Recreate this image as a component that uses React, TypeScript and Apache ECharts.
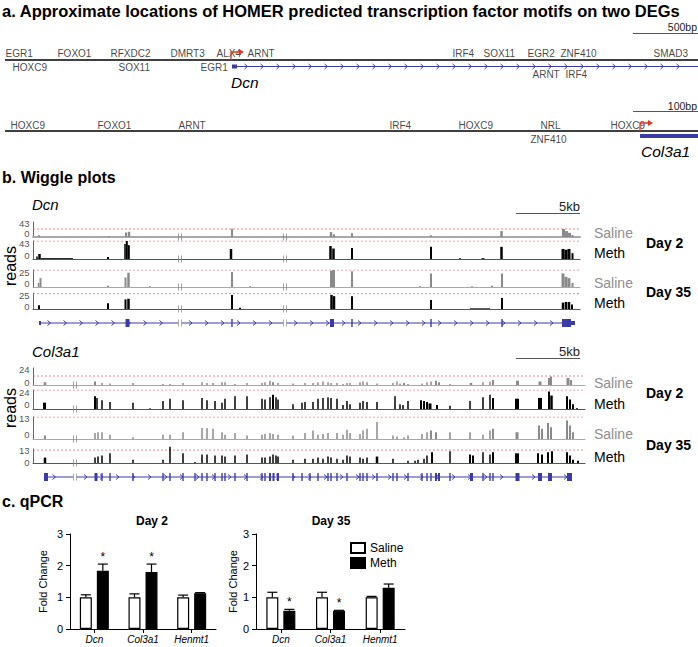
import React, { useEffect, useRef } from "react";
import * as echarts from "echarts";

type Peak = [number, number, number]; // [position, width, reads]
type Exon = [number, number, number]; // [start, end, coding(1)/utr(0)]

const FONT = '"Liberation Sans", Arial, Helvetica, sans-serif';
const BLUE = "#3b3ba8";
const RED = "#e8341c";
const GREY = "#8a8a8a";

// ---------------- Panel a : promoter motifs ----------------
// [label, position, row] row: 1 above line, -1 below line (beside gene), -2 below gene line
const dcnMotifs: [string, number, number][] = [
  ["EGR1", 5, 1], ["FOXO1", 57, 1], ["RFXDC2", 110, 1], ["DMRT3", 170, 1], ["ALX4", 216, 1], ["ARNT", 247, 1],
  ["IRF4", 452, 1], ["SOX11", 483, 1], ["EGR2", 527, 1], ["ZNF410", 560, 1], ["SMAD3", 653, 1],
  ["HOXC9", 12, -1], ["SOX11", 118, -1], ["EGR1", 200, -1], ["ARNT", 532, -2], ["IRF4", 565, -2],
];
const col3a1Motifs: [string, number, number][] = [
  ["HOXC9", 10, 1], ["FOXO1", 97, 1], ["ARNT", 178, 1], ["IRF4", 389, 1], ["HOXC9", 458, 1], ["NRL", 540, 1],
  ["HOXC9", 610, 1], ["ZNF410", 530, -2],
];
const promoterSpan: [number, number][] = [[5, 0], [698, 0]];
const dcnPromoterTss = [231];
const dcnPromoterExons: Exon[] = [[232, 237, 0]];
const dcnPromoterIntrons: [number, number][] = [[237, 698]];
const col3a1PromoterTss = [640];
const col3a1PromoterExons: Exon[] = [[640, 698, 0]];

// ---------------- Panel b : wiggle plots ----------------
const dcnRange = [33, 580];
const dcnBreaks = [180, 285];
const dcnIntrons: [number, number][] = [[40, 178.5], [181.5, 283.5], [286.5, 575]];
const dcnExons: Exon[] = [
  [39, 41, 0], [125.5, 129.5, 1], [231.3, 232.7, 1], [330, 334, 1], [351.3, 352.7, 1],
  [430.3, 431.7, 1], [501.3, 502.7, 1], [562, 571, 1], [571, 575, 0],
];
const dcnMax = [43, 43, 25, 25];
const dcnDashed = [23, 43, 25, 24];
const dcnSalineDay2: Peak[] = [
  [39, 2, 5], [109, 1.5, 3], [126, 2, 13], [129, 2.5, 15], [232, 2, 24], [331, 2.5, 14], [334, 2, 8],
  [352, 2, 11], [431, 1.5, 6], [501.5, 2.5, 17], [563.5, 3, 23], [566.5, 3, 17], [569.5, 3, 12], [572.5, 2, 6],
];
const dcnMethDay2: Peak[] = [
  [37, 1.5, 6], [39.5, 2.5, 12], [57, 32, 2], [108, 2, 5], [125, 1.5, 36], [126.8, 2, 43], [128.8, 2, 33],
  [231, 2.5, 24], [330.5, 2.5, 31], [333.5, 2.5, 25], [352, 2, 26], [431, 2, 29], [460, 2, 2], [483, 3, 2],
  [501.5, 2.5, 29], [563, 3, 24], [566, 3, 22], [569, 3, 24], [572.5, 2, 14],
];
const dcnSalineDay35: Peak[] = [
  [38.5, 1.5, 6], [40.5, 2, 13], [108, 2, 2], [125.5, 2, 14], [128.5, 2.5, 21], [150, 2, 1], [232, 2, 22],
  [250, 2, 1], [331, 2, 24], [333.5, 3, 25], [352, 2, 23], [420, 2, 1], [431, 2, 20], [472, 2, 1], [492, 2, 2],
  [502, 2, 20], [563, 3, 20], [566, 3, 15], [569, 3, 13], [572.5, 2, 6],
];
const dcnMethDay35: Peak[] = [
  [39, 2, 6], [108, 2, 9], [125.5, 2, 15], [128.5, 2.5, 16], [232, 2, 22], [240, 2, 2], [331.5, 2.5, 22],
  [334, 2.5, 20], [352, 2, 20], [431, 2, 14], [480, 20, 1], [502, 2, 17], [563, 2.5, 10], [566, 2.5, 11],
  [569, 2.5, 11], [572, 2, 7],
];

const col3a1Range = [33, 585];
const col3a1Breaks = [75];
const col3a1Introns: [number, number][] = [[45, 73.5], [76.5, 572]];
const col3a1Exons: Exon[] = [
  [44, 48, 1], [94.5, 97.5, 1], [101.3, 102.7, 1], [109.3, 110.7, 1], [132.3, 133.7, 1], [162.3, 163.7, 1],
  [169.3, 170.7, 1], [182.3, 183.7, 1], [194.3, 195.7, 1], [201.3, 202.7, 1], [206.3, 207.7, 1], [214.3, 215.7, 1],
  [221.3, 222.7, 1], [224.3, 225.7, 1], [234.3, 235.7, 1], [246.3, 247.7, 1], [261.3, 262.7, 1], [264.3, 265.7, 1],
  [269, 271, 1], [272.5, 274.5, 1], [277, 279, 1], [292.3, 293.7, 1], [301.3, 302.7, 1], [309.3, 310.7, 1],
  [317.3, 318.7, 1], [327.3, 328.7, 1], [330.3, 331.7, 1], [336.3, 337.7, 1], [346.3, 347.7, 1], [359.3, 360.7, 1],
  [362.3, 363.7, 1], [366.3, 367.7, 1], [376.3, 377.7, 1], [392.3, 393.7, 1], [396.3, 397.7, 1], [407.3, 408.7, 1],
  [421.3, 422.7, 1], [426.3, 427.7, 1], [430.3, 431.7, 1], [435, 437, 1], [438, 440, 1], [449.3, 450.7, 1],
  [470, 473, 1], [482.3, 483.7, 1], [489.3, 490.7, 1], [492.3, 493.7, 1], [515.5, 519.5, 1], [538, 542, 1],
  [548, 552, 1], [567, 572, 1],
];
const col3a1Max = [24, 24, 13, 13];
const col3a1Dashed = [12.7, 24, 13, 12];
const col3a1SalineDay2: Peak[] = [
  [45, 2.5, 4], [95, 2, 5], [102, 1.5, 3], [110, 1.5, 2], [133, 1.5, 3], [163, 1.5, 1.5], [170, 1.5, 1.5],
  [183, 1.5, 3], [202, 1.5, 4], [207, 1.5, 3], [213, 1.5, 3], [222, 1.5, 4], [225, 1.5, 4], [235, 1.5, 1.5],
  [247, 1.5, 3], [262, 1.5, 3], [265, 1.5, 4], [270, 1.5, 6], [273, 2, 4], [278, 1.5, 3], [293, 1.5, 2],
  [305, 1.5, 3], [313, 1.5, 3], [318, 1.5, 4], [323, 1.5, 5], [328, 1.5, 4], [331, 1.5, 3], [337, 1.5, 3],
  [343, 1.5, 1.5], [347, 1.5, 3], [350, 1.5, 3], [360, 1.5, 4], [363, 1.5, 5], [367, 1.5, 4], [377, 1.5, 2],
  [393, 1.5, 3], [397, 1.5, 5], [400, 1.5, 2], [404, 2, 3], [408, 1.5, 1.5], [422, 1.5, 2], [427, 1.5, 4],
  [431, 1.5, 5], [436, 2, 6], [439, 2, 4], [450, 1.5, 1.5], [471, 2.5, 3], [483, 1.5, 4], [490, 1.5, 5],
  [493, 2, 7], [517.5, 3, 6], [540, 3, 5], [549, 2, 10], [551, 2, 12], [568, 3, 10], [571, 2, 7],
];
const col3a1MethDay2: Peak[] = [
  [44.5, 3, 8], [95, 2, 16], [97, 1.5, 14], [102, 1.5, 11], [110, 1.5, 9], [133, 1.5, 8], [150, 1.5, 1],
  [163, 1.5, 10], [170, 1.5, 13], [183, 1.5, 11], [202, 1.5, 14], [207, 1.5, 11], [215, 1.5, 10], [222, 1.5, 8],
  [225, 1.5, 13], [235, 1.5, 16], [247, 1.5, 16], [262, 1.5, 13], [265, 1.5, 12], [270, 1.5, 15], [273, 2, 18],
  [276, 1.5, 15], [278, 1.5, 12], [293, 1.5, 6], [302, 1.5, 8], [305, 1.5, 9], [313, 1.5, 9], [318, 1.5, 13],
  [323, 1.5, 14], [328, 1.5, 15], [331, 1.5, 14], [337, 1.5, 13], [343, 1.5, 5], [347, 1.5, 10], [350, 1.5, 6],
  [360, 1.5, 8], [363, 1.5, 10], [367, 1.5, 9], [377, 1.5, 9], [395, 1.5, 16], [400, 1.5, 6], [403, 1.5, 5],
  [408, 1.5, 10], [421, 2, 11], [424, 2, 10], [427, 2, 9], [430, 3, 7], [437, 2, 5], [450, 1.5, 4], [470, 1.5, 10],
  [483, 1.5, 15], [490, 1.5, 18], [493, 2, 14], [517, 4, 13], [540, 4, 14], [549, 2, 22], [551.5, 2.5, 17],
  [567, 2, 16], [570, 2, 12], [573, 2, 6], [577, 2, 1],
];
const col3a1SalineDay35: Peak[] = [
  [45, 2, 2], [95, 1.5, 3.5], [98, 1.5, 4], [102, 1.5, 4], [110, 1.5, 2.5], [133, 1.5, 1], [163, 1.5, 2.5],
  [170, 1.5, 2.5], [183, 1.5, 4], [202, 1.5, 6.5], [207, 1.5, 6.5], [213, 1.5, 6], [222, 1.5, 4], [225, 1.5, 2.5],
  [235, 1.5, 3.5], [247, 1.5, 2], [262, 1.5, 2.5], [265, 1.5, 3], [270, 1.5, 3.5], [273, 1.5, 3], [278, 1.5, 2.5],
  [293, 1.5, 2], [305, 1.5, 3.5], [313, 1.5, 5], [318, 1.5, 2.5], [323, 1.5, 3], [328, 1.5, 3.5], [337, 1.5, 3.5],
  [343, 1.5, 2.5], [347, 1.5, 5.5], [350, 1.5, 3.5], [360, 1.5, 3], [363, 1.5, 5], [367, 1.5, 6], [377, 1.5, 10],
  [393, 1.5, 2], [397, 1.5, 1.5], [404, 1.5, 1], [408, 1.5, 2], [422, 1.5, 3], [427, 1.5, 4], [431, 2, 5],
  [436, 2, 4], [450, 1.5, 4], [470, 1.5, 4], [483, 1.5, 2.5], [490, 1.5, 5], [493, 2, 6], [517, 3, 4], [539, 2, 8],
  [542, 2, 6], [548, 2, 9.5], [551, 2, 7], [567, 2, 11], [570, 2, 8], [573, 2, 4],
];
const col3a1MethDay35: Peak[] = [
  [45, 2.5, 5], [95, 1.5, 5], [98, 1.5, 6], [102, 1.5, 7], [110, 1.5, 9], [133, 1.5, 3], [163, 1.5, 3],
  [170, 1.5, 15], [183, 1.5, 9], [195, 1.5, 1], [202, 1.5, 8], [207, 1.5, 8], [215, 1.5, 7], [222, 1.5, 7],
  [225, 1.5, 6], [235, 1.5, 7], [247, 1.5, 8], [262, 1.5, 5], [265, 1.5, 5], [270, 1.5, 6], [273, 1.5, 8],
  [276, 1.5, 7], [278, 1.5, 6], [293, 1.5, 3], [305, 1.5, 4], [313, 1.5, 4], [318, 1.5, 5], [323, 1.5, 4],
  [328, 1.5, 6], [331, 1.5, 5], [337, 1.5, 4], [343, 1.5, 3], [347, 1.5, 7], [350, 1.5, 6], [360, 1.5, 5],
  [363, 1.5, 4], [367, 1.5, 5], [377, 2.5, 6], [393, 1.5, 4], [408, 1.5, 2], [415, 1.5, 2], [418, 1.5, 3],
  [424, 1.5, 4], [427, 1.5, 7], [432, 2, 10], [450, 1.5, 11], [470, 2, 8], [473, 2, 7], [483, 1.5, 10],
  [490, 1.5, 8], [493, 2, 10], [517, 4, 9], [538, 2, 9], [542, 2, 8], [548, 2, 10], [552, 2, 11], [567, 2, 10],
  [570, 2, 7], [573, 2, 3], [578, 2, 2],
];

// ---------------- Panel c : qPCR ----------------
const qpcrGenes = ["Dcn", "Col3a1", "Henmt1"];
const day2Saline = [1.0, 1.0, 1.0];
const day2SalineErr = [0.08, 0.11, 0.07];
const day2Meth = [1.84, 1.8, 1.13];
const day2MethErr = [0.21, 0.25, 0.02];
const day2Sig = [1, 1, 0];
const day35Saline = [1.0, 1.0, 1.0];
const day35SalineErr = [0.16, 0.16, 0.03];
const day35Meth = [0.58, 0.58, 1.3];
const day35MethErr = [0.04, 0.01, 0.12];
const day35Sig = [1, 1, 0];

function buildOption() {
  const grid: any[] = [];
  const xAxis: any[] = [];
  const yAxis: any[] = [];
  const series: any[] = [];
  const addGrid = (box: any, xa: any, ya: any) => {
    const idx = grid.length;
    grid.push({ ...box, containLabel: false, show: false });
    xAxis.push({ gridIndex: idx, ...xa });
    yAxis.push({ gridIndex: idx, ...ya });
    return idx;
  };
  const hidden = (min: number, max: number) => ({ type: "value", min, max, show: false, splitLine: { show: false } });

  const intronRenderer = (level: number, chevrons: boolean) => (_p: any, api: any) => {
    const s = api.coord([api.value(0), level]);
    const e = api.coord([api.value(1), level]);
    const children: any[] = [
      { type: "line", shape: { x1: s[0], y1: s[1], x2: e[0], y2: e[1] }, style: { stroke: BLUE, lineWidth: 1 } },
    ];
    if (chevrons) {
      for (let px = s[0] + 9; px < e[0] - 4; px += 16) {
        children.push({
          type: "polyline",
          shape: { points: [[px - 1.5, s[1] - 2.5], [px + 1.5, s[1]], [px - 1.5, s[1] + 2.5]] },
          style: { stroke: BLUE, lineWidth: 1, fill: "none" },
        });
      }
    }
    return { type: "group", children };
  };
  const exonRenderer = (level: number, thick: number, thin: number) => (_p: any, api: any) => {
    const s = api.coord([api.value(0), level]);
    const e = api.coord([api.value(1), level]);
    const h = api.value(2) ? thick : thin;
    return {
      type: "rect",
      shape: { x: s[0], y: s[1] - h / 2, width: Math.max(e[0] - s[0], 1.3), height: h },
      style: { fill: BLUE },
    };
  };
  const peakRenderer = (color: string) => (_p: any, api: any) => {
    const x = api.value(0);
    const w = api.value(1);
    const v = api.value(2);
    const top = api.coord([x, v]);
    const base = api.coord([x, 0]);
    const wpx = Math.max(api.size([w, 0])[0], 1);
    return {
      type: "rect",
      shape: { x: top[0] - wpx / 2, y: top[1], width: wpx, height: base[1] - top[1] },
      style: { fill: color },
    };
  };
  const arrowRenderer = () => (_p: any, api: any) => {
    const p = api.coord([api.value(0), 0]);
    return {
      type: "group",
      children: [
        {
          type: "polyline",
          shape: { points: [[p[0], p[1]], [p[0], p[1] - 8], [p[0] + 9, p[1] - 8]] },
          style: { stroke: RED, lineWidth: 1.3, fill: "none" },
        },
        {
          type: "polygon",
          shape: { points: [[p[0] + 8, p[1] - 11], [p[0] + 13, p[1] - 8], [p[0] + 8, p[1] - 5]] },
          style: { fill: RED },
        },
      ],
    };
  };

  // ----- panel a -----
  const promoterRows = [
    { top: 45, motifs: dcnMotifs, levels: { 1: 0.7, "-1": -0.7, "-2": -1.45 } as any, geneLv: -0.65,
      tss: dcnPromoterTss, exons: dcnPromoterExons, introns: dcnPromoterIntrons },
    { top: 116, motifs: col3a1Motifs, levels: { 1: 0.6, "-1": -0.8, "-2": -0.8 } as any, geneLv: -0.5,
      tss: col3a1PromoterTss, exons: col3a1PromoterExons, introns: [] as [number, number][] },
  ];
  promoterRows.forEach((row) => {
    const gi = addGrid({ left: 0, top: row.top, width: 698, height: 30 }, hidden(0, 698), hidden(-1.5, 1.5));
    series.push({
      type: "scatter", xAxisIndex: gi, yAxisIndex: gi, symbolSize: 1, itemStyle: { color: "rgba(0,0,0,0)" },
      clip: false,
      data: row.motifs.map(([n, x, r]) => ({ name: n, value: [x, row.levels[String(r)]] })),
      label: { show: true, formatter: "{b}", position: "right", distance: 0, fontSize: 10, color: "#111", fontFamily: FONT },
      silent: true, z: 3,
    });
    series.push({
      type: "line", xAxisIndex: gi, yAxisIndex: gi, data: promoterSpan, symbol: "none",
      lineStyle: { color: "#000", width: 1.5 }, silent: true, z: 2,
    });
    if (row.introns.length) {
      series.push({ type: "custom", xAxisIndex: gi, yAxisIndex: gi, data: row.introns, renderItem: intronRenderer(row.geneLv, true), silent: true, z: 2 });
    }
    series.push({ type: "custom", xAxisIndex: gi, yAxisIndex: gi, data: row.exons, renderItem: exonRenderer(row.geneLv, 4, 4), silent: true, z: 2 });
    series.push({ type: "custom", xAxisIndex: gi, yAxisIndex: gi, data: row.tss.map((t) => [t]), renderItem: arrowRenderer(), silent: true, z: 5 });
  });

  // ----- panel b -----
  const wigglePanels = [
    {
      range: dcnRange, breaks: dcnBreaks, introns: dcnIntrons, exons: dcnExons, max: dcnMax, dashed: dcnDashed,
      tracks: [dcnSalineDay2, dcnMethDay2, dcnSalineDay35, dcnMethDay35],
      layout: [[222, 237], [241, 259], [270, 287], [293, 309]], geneY: 323,
      labelShift: [[1, -4], [2, -4], [2, -4], [2, -3]],
      baseWidth: [2, 1, 1, 1],
    },
    {
      range: col3a1Range, breaks: col3a1Breaks, introns: col3a1Introns, exons: col3a1Exons, max: col3a1Max,
      dashed: col3a1Dashed,
      tracks: [col3a1SalineDay2, col3a1MethDay2, col3a1SalineDay35, col3a1MethDay35],
      layout: [[368, 385], [390, 409], [417, 439], [449, 463]], geneY: 477,
      labelShift: [[1, -3], [2, -5], [1, -5], [1, -1]],
      baseWidth: [1, 1, 1, 1],
    },
  ];
  const breakSymbol = "path://M0,0H1V10H0ZM3,0H4V10H3Z";
  wigglePanels.forEach((panel) => {
    const left = panel.range[0];
    const width = panel.range[1] - panel.range[0];
    panel.tracks.forEach((peaks, k) => {
      const saline = k % 2 === 0;
      const [top, bottom] = panel.layout[k];
      const baseColor = saline ? "#a8a8a8" : "#555";
      const gi = addGrid(
        { left, top, width, height: bottom - top },
        {
          type: "value", min: panel.range[0], max: panel.range[1],
          axisLine: { show: true, onZero: false, lineStyle: { color: baseColor, width: panel.baseWidth[k] } },
          axisTick: { show: false }, axisLabel: { show: false }, splitLine: { show: false },
        },
        {
          type: "value", min: 0, max: panel.max[k], interval: panel.max[k],
          axisLine: { show: true, lineStyle: { color: "#666", width: 1 } }, axisTick: { show: false },
          splitLine: { show: false }, axisLabel: { show: false },
        }
      );
      const [hiShift, loShift] = panel.labelShift[k];
      // scale labels (0 and track maximum) drawn on the track's own y scale
      series.push({
        type: "scatter", xAxisIndex: gi, yAxisIndex: gi, symbolSize: 1, itemStyle: { color: "rgba(0,0,0,0)" },
        clip: false, silent: true, z: 5,
        data: [
          { value: [panel.range[0], 0], label: { offset: [0, loShift] } },
          { value: [panel.range[0], panel.max[k]], label: { offset: [0, hiShift] } },
        ],
        label: {
          show: true, position: "left", distance: 3, fontSize: 9.5, color: "#222", fontFamily: FONT,
          formatter: (p: any) => String(p.value[1]),
        },
      });
      series.push({
        type: "line", xAxisIndex: gi, yAxisIndex: gi, symbol: "none", silent: true, z: 1,
        data: [[panel.range[0], panel.dashed[k]], [panel.range[1], panel.dashed[k]]],
        lineStyle: { color: "#e06a6a", width: 0.8, type: [2, 2] },
      });
      series.push({
        type: "custom", xAxisIndex: gi, yAxisIndex: gi, data: peaks, renderItem: peakRenderer(saline ? GREY : "#000"),
        silent: true, z: 3,
      });
      series.push({
        type: "scatter", xAxisIndex: gi, yAxisIndex: gi, symbol: breakSymbol, symbolSize: [4, 7],
        itemStyle: { color: "#888" }, data: panel.breaks.map((b) => [b, 0]), silent: true, z: 4, clip: false,
      });
    });
    const gg = addGrid({ left, top: panel.geneY - 5, width, height: 10 }, hidden(panel.range[0], panel.range[1]), hidden(-1, 1));
    series.push({ type: "custom", xAxisIndex: gg, yAxisIndex: gg, data: panel.introns, renderItem: intronRenderer(0, true), silent: true, z: 2 });
    series.push({ type: "custom", xAxisIndex: gg, yAxisIndex: gg, data: panel.exons, renderItem: exonRenderer(0, 8, 4), silent: true, z: 3 });
    series.push({
      type: "scatter", xAxisIndex: gg, yAxisIndex: gg, symbol: breakSymbol, symbolSize: [4, 7],
      itemStyle: { color: "#999" }, data: panel.breaks.map((b) => [b, 0]), silent: true, z: 4,
    });
  });

  // ----- panel c -----
  const qpcrPanels = [
    { saline: day2Saline, salineErr: day2SalineErr, meth: day2Meth, methErr: day2MethErr, sig: day2Sig },
    { saline: day35Saline, salineErr: day35SalineErr, meth: day35Meth, methErr: day35MethErr, sig: day35Sig },
  ];
  const qpcrLayout = [
    { left: 70, width: 146, nameGap: 22 },
    { left: 256, width: 149, nameGap: 11 },
  ];
  const BAR_W = 12;
  const BAR_GAP = 5;
  const off = BAR_W / 2 + BAR_GAP / 2;
  const errRenderer = (offset: number) => (_p: any, api: any) => {
    const i = api.value(0);
    const v = api.value(1);
    const e = api.value(2);
    const s = api.value(3);
    const b = api.coord([i, v]);
    const t = api.coord([i, v + e]);
    const cx = b[0] + offset;
    const children: any[] = [
      { type: "line", shape: { x1: cx, y1: b[1], x2: cx, y2: t[1] }, style: { stroke: "#000", lineWidth: 1.2 } },
      { type: "line", shape: { x1: cx - 5, y1: t[1], x2: cx + 5, y2: t[1] }, style: { stroke: "#000", lineWidth: 1.2 } },
    ];
    if (s) {
      children.push({
        type: "text", x: cx, y: t[1] - 1,
        style: { text: "*", fontSize: 12, fill: "#000", fontFamily: FONT, align: "center", verticalAlign: "bottom", textAlign: "center", textVerticalAlign: "bottom" },
      });
    }
    return { type: "group", children };
  };
  qpcrPanels.forEach((p, k) => {
    const L = qpcrLayout[k];
    const gi = addGrid(
      { left: L.left, top: 534, width: L.width, height: 95 },
      {
        type: "category", data: qpcrGenes,
        axisLine: { show: true, lineStyle: { color: "#000", width: 1 } },
        axisTick: { show: true, alignWithLabel: true, length: 4, lineStyle: { color: "#000" } },
        axisLabel: { fontStyle: "italic", fontSize: 10, color: "#000", margin: 5, fontFamily: FONT },
      },
      {
        type: "value", min: 0, max: 3, interval: 1, name: "Fold Change", nameLocation: "middle", nameGap: L.nameGap,
        nameTextStyle: { fontSize: 11, color: "#000", fontFamily: FONT },
        axisLine: { show: true, lineStyle: { color: "#000", width: 1 } },
        axisTick: { show: true, length: 4, lineStyle: { color: "#000" } },
        axisLabel: { fontSize: 11, color: "#000", margin: 7, fontFamily: FONT },
        splitLine: { show: false },
      }
    );
    series.push({
      type: "bar", name: "Saline", xAxisIndex: gi, yAxisIndex: gi, data: p.saline, barWidth: BAR_W,
      barGap: `${(BAR_GAP / BAR_W) * 100}%`, itemStyle: { color: "#fff", borderColor: "#000", borderWidth: 1.2 }, z: 2,
    });
    series.push({
      type: "bar", name: "Meth", xAxisIndex: gi, yAxisIndex: gi, data: p.meth, barWidth: BAR_W,
      barGap: `${(BAR_GAP / BAR_W) * 100}%`, itemStyle: { color: "#000", borderColor: "#000", borderWidth: 1.2 }, z: 2,
    });
    series.push({
      type: "custom", xAxisIndex: gi, yAxisIndex: gi, silent: true, z: 3, renderItem: errRenderer(-off),
      data: p.saline.map((v, i) => [i, v, p.salineErr[i], 0]),
    });
    series.push({
      type: "custom", xAxisIndex: gi, yAxisIndex: gi, silent: true, z: 3, renderItem: errRenderer(off),
      data: p.meth.map((v, i) => [i, v, p.methErr[i], p.sig[i]]),
    });
  });

  // ----- texts & scale bars -----
  const txt = (text: string, x: number, y: number, o: any = {}) => ({
    type: "text", x, y, silent: true, rotation: o.rotation || 0,
    style: {
      text, fill: o.color || "#000", fontSize: o.size || 12, fontWeight: o.bold ? "bold" : "normal",
      fontStyle: o.italic ? "italic" : "normal", fontFamily: FONT,
      align: o.align || "left", verticalAlign: "middle", textAlign: o.align || "left", textVerticalAlign: "middle",
    },
  });
  const bar = (x1: number, x2: number, y: number) => ({
    type: "line", silent: true, shape: { x1, y1: y, x2, y2: y }, style: { stroke: "#555", lineWidth: 1 },
  });
  const elements: any[] = [
    txt("a. Approximate locations of HOMER predicted transcription factor motifs on two DEGs", 2, 11, { size: 16.5, bold: true }),
    txt("500bp", 697, 27, { size: 10.5, align: "right", color: "#222" }),
    bar(633, 698, 33.5),
    txt("Dcn", 231, 82, { size: 15.5, italic: true }),
    txt("100bp", 697, 106, { size: 10.5, align: "right", color: "#222" }),
    bar(633, 698, 111.5),
    txt("Col3a1", 641, 151, { size: 15.5, italic: true }),
    txt("b. Wiggle plots", 2, 177, { size: 16, bold: true }),
    txt("Dcn", 32, 204, { size: 15, italic: true }),
    txt("5kb", 580, 206, { size: 13, align: "right", color: "#222" }),
    bar(516, 580, 213.5),
    txt("reads", 10, 266, { size: 16, align: "center", rotation: Math.PI / 2 }),
    txt("Saline", 594, 233, { size: 14, color: "#8e8e8e" }),
    txt("Meth", 594, 253, { size: 14 }),
    txt("Day 2", 646, 243, { size: 14, bold: true }),
    txt("Saline", 594, 283, { size: 14, color: "#8e8e8e" }),
    txt("Meth", 594, 303, { size: 14 }),
    txt("Day 35", 646, 292, { size: 14, bold: true }),
    txt("Col3a1", 32, 351, { size: 15, italic: true }),
    txt("5kb", 580, 351, { size: 13, align: "right", color: "#222" }),
    bar(516, 580, 358.5),
    txt("reads", 10, 408, { size: 16, align: "center", rotation: Math.PI / 2 }),
    txt("Saline", 594, 383, { size: 14, color: "#8e8e8e" }),
    txt("Meth", 594, 404, { size: 14 }),
    txt("Day 2", 646, 393, { size: 14, bold: true }),
    txt("Saline", 594, 434, { size: 14, color: "#8e8e8e" }),
    txt("Meth", 594, 457, { size: 14 }),
    txt("Day 35", 646, 445, { size: 14, bold: true }),
    txt("c. qPCR", 2, 501, { size: 16, bold: true }),
    txt("Day 2", 152, 521, { size: 12, bold: true, align: "center" }),
    txt("Day 35", 331, 521, { size: 12, bold: true, align: "center" }),
  ];

  return {
    animation: false,
    backgroundColor: "#fff",
    textStyle: { fontFamily: FONT },
    grid,
    xAxis,
    yAxis,
    series,
    legend: {
      data: ["Saline", "Meth"], left: 345, top: 537, orient: "vertical", itemWidth: 14, itemHeight: 10, itemGap: 3,
      icon: "rect", selectedMode: false, textStyle: { fontSize: 12, color: "#000", fontFamily: FONT },
    },
    graphic: { elements },
  };
}

export default function App() {
  const ref = useRef<HTMLDivElement>(null);
  useEffect(() => {
    document.body.style.margin = "0";
    const chart = echarts.init(ref.current!, undefined, { renderer: "svg" });
    chart.setOption(buildOption() as any);
    return () => chart.dispose();
  }, []);
  return (
    <div
      ref={ref}
      style={{ width: 698, height: 647, position: "absolute", left: 0, top: 0, background: "#fff" }}
    />
  );
}
